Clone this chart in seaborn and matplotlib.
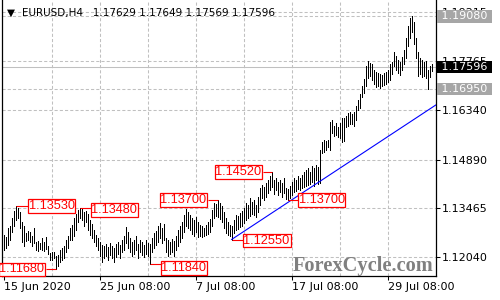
import numpy as np
import matplotlib
matplotlib.use("Agg")
import matplotlib.pyplot as plt
import matplotlib.transforms as mtransforms
import seaborn as sns

# ---------------- data (EURUSD H4 bars) ----------------
highs = [
    1.1268, 1.1263, 1.1289, 1.1295, 1.1318, 1.1339, 1.1353, 1.1347, 1.1336, 1.1306,
    1.1295, 1.1274, 1.1280, 1.1277, 1.1266, 1.1289, 1.1248, 1.1251, 1.1245, 1.1260,
    1.1248, 1.1263, 1.1236, 1.1216, 1.1219, 1.1219, 1.1207, 1.1210, 1.1225, 1.1230,
    1.1236, 1.1254, 1.1266, 1.1289,
    1.1298, 1.1318, 1.1330, 1.1341, 1.1348, 1.1344, 1.1336, 1.1339, 1.1330, 1.1312,
    1.1301, 1.1283, 1.1268, 1.1260, 1.1248,
    1.1239, 1.1236, 1.1242, 1.1233, 1.1245, 1.1236, 1.1230, 1.1242, 1.1248, 1.1239,
    1.1254, 1.1266, 1.1292, 1.1277, 1.1260, 1.1248, 1.1254, 1.1266, 1.1242, 1.1254,
    1.1248, 1.1239, 1.1254, 1.1245, 1.1242,
    1.1260, 1.1274, 1.1280, 1.1295, 1.1304, 1.1289, 1.1301, 1.1260, 1.1254, 1.1248,
    1.1257, 1.1251, 1.1266, 1.1283, 1.1295, 1.1306, 1.1327, 1.1344, 1.1336,
    1.1327, 1.1318, 1.1312, 1.1321, 1.1306, 1.1298, 1.1295, 1.1289, 1.1298, 1.1306,
    1.1315, 1.1341, 1.1362, 1.1359, 1.1370, 1.1362, 1.1353, 1.1336, 1.1318, 1.1306,
    1.1298, 1.1295,
    1.1312, 1.1327, 1.1324, 1.1333, 1.1339, 1.1347, 1.1362, 1.1356, 1.1377, 1.1365,
    1.1371, 1.1356, 1.1380, 1.1406, 1.1415, 1.1409, 1.1421, 1.1429, 1.1441, 1.1452,
    1.1429, 1.1435, 1.1424, 1.1429, 1.1421, 1.1435, 1.1406, 1.1403, 1.1412, 1.1424,
    1.1435, 1.1429, 1.1441, 1.1435, 1.1444, 1.1453, 1.1459, 1.1464, 1.1453, 1.1470,
    1.1464, 1.1473, 1.1467, 1.1517,
    1.1540, 1.1546, 1.1543, 1.1546, 1.1599, 1.1605, 1.1587, 1.1596, 1.1584, 1.1596,
    1.1611, 1.1611, 1.1617, 1.1625, 1.1628, 1.1622, 1.1628, 1.1646, 1.1663, 1.1681,
    1.1704, 1.1725, 1.1763, 1.1777, 1.1771,
    1.1769, 1.1751, 1.1745, 1.1742, 1.1739, 1.1736, 1.1742, 1.1745, 1.1751, 1.1769,
    1.1774, 1.1804, 1.1792, 1.1780, 1.1774, 1.1789, 1.1810, 1.1845, 1.1880, 1.1903,
    1.1908, 1.1891, 1.1845, 1.1804, 1.1786, 1.1780, 1.1774, 1.1777, 1.1751, 1.1763,
    1.1769,
]
lows = [
    1.1225, 1.1230, 1.1239, 1.1254, 1.1277, 1.1295, 1.1312, 1.1318, 1.1289, 1.1248,
    1.1236, 1.1251, 1.1254, 1.1248, 1.1236, 1.1245, 1.1225, 1.1222, 1.1227, 1.1225,
    1.1222, 1.1227, 1.1213, 1.1195, 1.1195, 1.1201, 1.1168, 1.1178, 1.1189, 1.1195,
    1.1201, 1.1219, 1.1230, 1.1254,
    1.1254, 1.1266, 1.1283, 1.1306, 1.1318, 1.1312, 1.1295, 1.1306, 1.1283, 1.1268,
    1.1260, 1.1248, 1.1236, 1.1225, 1.1207,
    1.1189, 1.1201, 1.1207, 1.1195, 1.1210, 1.1201, 1.1189, 1.1204, 1.1213, 1.1201,
    1.1219, 1.1225, 1.1245, 1.1230, 1.1219, 1.1207, 1.1213, 1.1225, 1.1201, 1.1219,
    1.1210, 1.1204, 1.1213, 1.1207, 1.1184,
    1.1219, 1.1230, 1.1239, 1.1248, 1.1260, 1.1245, 1.1254, 1.1219, 1.1207, 1.1213,
    1.1219, 1.1207, 1.1225, 1.1236, 1.1248, 1.1260, 1.1277, 1.1295, 1.1289,
    1.1283, 1.1271, 1.1266, 1.1277, 1.1263, 1.1266, 1.1263, 1.1266, 1.1268, 1.1271,
    1.1277, 1.1295, 1.1318, 1.1324, 1.1321, 1.1315, 1.1306, 1.1289, 1.1274, 1.1268,
    1.1266, 1.1255,
    1.1274, 1.1283, 1.1286, 1.1292, 1.1295, 1.1304, 1.1312, 1.1318, 1.1324, 1.1330,
    1.1327, 1.1321, 1.1336, 1.1356, 1.1377, 1.1371, 1.1380, 1.1391, 1.1400, 1.1409,
    1.1388, 1.1400, 1.1385, 1.1394, 1.1380, 1.1391, 1.1374, 1.1370, 1.1377, 1.1385,
    1.1394, 1.1397, 1.1403, 1.1400, 1.1406, 1.1409, 1.1412, 1.1415, 1.1418, 1.1424,
    1.1412, 1.1429, 1.1418, 1.1421,
    1.1508, 1.1511, 1.1517, 1.1526, 1.1517, 1.1567, 1.1558, 1.1561, 1.1555, 1.1552,
    1.1540, 1.1543, 1.1584, 1.1587, 1.1593, 1.1593, 1.1587, 1.1605, 1.1634, 1.1640,
    1.1672, 1.1684, 1.1704, 1.1728, 1.1734,
    1.1722, 1.1710, 1.1701, 1.1704, 1.1698, 1.1704, 1.1707, 1.1710, 1.1716, 1.1722,
    1.1739, 1.1763, 1.1751, 1.1742, 1.1736, 1.1751, 1.1769, 1.1786, 1.1821, 1.1845,
    1.1862, 1.1827, 1.1786, 1.1734, 1.1739, 1.1731, 1.1734, 1.1728, 1.1695, 1.1731,
    1.1748,
]
last_close = 1.17596
level_lines = [1.19080, 1.16950]
level_colors = ["#a6a6a6", "#a6a6a6"]

title_symbol = "EURUSD,H4"
title_ohlc = ["1.17629", "1.17649", "1.17569", "1.17596"]

date_ticks = [0, 48, 96, 144, 192]
date_labels = ["15 Jun 2020", "25 Jun 08:00", "7 Jul 08:00", "17 Jul 08:00", "29 Jul 08:00"]
grid_x = [24, 48, 72, 96, 120, 144, 168, 192]
price_ticks = [1.12040, 1.13465, 1.14890, 1.16340, 1.17765, 1.19215]

swing_idx = [6, 38, 26, 107, 73, 134, 114, 142]
swing_price = [1.13530, 1.13480, 1.11680, 1.13700, 1.11840, 1.14520, 1.12550, 1.13700]

trend_idx = [114, 216.25]
trend_price = [1.12550, 1.16490]

watermark = "ForexCycle.com"

# ---------------- layout ----------------
label_offset = [6, 5.5, -5, -5, 5.5, -4.5, 5.5, 5]          # bars between bar and box
label_dy = [0, -0.0006, 0, 0, -0.0012, 0, -0.0003, 0]

sns.set_style("white")
plt.rcParams["font.family"] = ["DejaVu Sans"]

fig = plt.figure(figsize=(5, 3), dpi=100)
ax = fig.add_axes([0.004, 0.08, 0.868, 0.92])

grid_kw = dict(color="#c0c0c0", lw=0.75, ls=(0, (3, 2)), zorder=0)
for gx in grid_x:
    ax.axvline(gx, **grid_kw)
for gy in price_ticks:
    ax.axhline(gy, **grid_kw)
for lv in level_lines:
    ax.axhline(lv, **grid_kw)
ax.axhline(last_close, color="#c0c0c0", lw=0.75, zorder=0.5)

idx = np.arange(len(highs))
ax.vlines(idx, lows, highs, colors="black", lw=0.5, antialiased=False, zorder=2)

sns.lineplot(x=trend_idx, y=trend_price, color="#0000ff", lw=0.8, ax=ax, zorder=3)

ax.set_xlim(-0.75, 216.25)
ax.set_ylim(1.11484, 1.19558)

# axes styling
for s in ["left", "bottom", "right"]:
    ax.spines[s].set_visible(True)
    ax.spines[s].set_color("black")
    ax.spines[s].set_linewidth(0.9)
ax.spines["top"].set_visible(False)

ax.set_xticks(date_ticks)
ax.set_xticklabels(date_labels)
for t in ax.get_xticklabels():
    t.set_ha("left")
ax.set_yticks(price_ticks)
ax.set_yticklabels([f"{v:.5f}" for v in price_ticks])
ax.yaxis.tick_right()
ax.tick_params(axis="y", which="both", right=True, left=False, labelright=True,
               labelleft=False, length=3, width=0.75, pad=1.5, direction="out",
               labelsize=8, colors="black")
ax.tick_params(axis="x", bottom=True, length=3, width=0.75, pad=1.5, direction="out",
               labelsize=8, colors="black")
ax.set_xlabel("")
ax.set_ylabel("")

# swing labels
pad_bars = 0.5
for i, p, off, dy in zip(swing_idx, swing_price, label_offset, label_dy):
    edge = i + off
    ax.plot([i, edge], [p, p], color="red", lw=0.8, solid_capstyle="butt", zorder=4,
            clip_on=False)
    if off > 0:
        tx, ha = edge + pad_bars, "left"
    else:
        tx, ha = edge - pad_bars, "right"
    ax.text(tx, p + dy, f"{p:.5f}", ha=ha, va="center", color="red",
            family="Liberation Sans", fontsize=9.2, zorder=5, clip_on=False,
            bbox=dict(boxstyle="square,pad=0.06", fc="white", ec="red", lw=0.9))

# right side price boxes
tr = mtransforms.blended_transform_factory(ax.transAxes, ax.transData)
for lv, c in zip(level_lines, level_colors):
    ax.text(1.0046, lv, f" {lv:.5f} ", transform=tr, ha="left", va="center",
            color="white", fontsize=8, zorder=6, clip_on=False,
            bbox=dict(boxstyle="square,pad=0.12", fc=c, ec=c, lw=0))
ax.text(1.0046, last_close, f" {last_close:.5f} ", transform=tr, ha="left", va="center",
        color="white", fontsize=8, zorder=6, clip_on=False,
        bbox=dict(boxstyle="square,pad=0.12", fc="black", ec="black", lw=0))

# title
fig.text(0.013, 0.958, "\u25bc", fontsize=7.5, color="black", va="center", ha="left")
fig.text(0.044, 0.958, title_symbol + "   " + " ".join(title_ohlc), fontsize=7.5,
         color="black", va="center", ha="left")

# watermark
fig.text(0.586, 0.113, watermark, family="Liberation Serif", weight="bold",
         fontsize=14.7, color="#808080", ha="left", va="center")

fig.savefig("out.png", dpi=100)
